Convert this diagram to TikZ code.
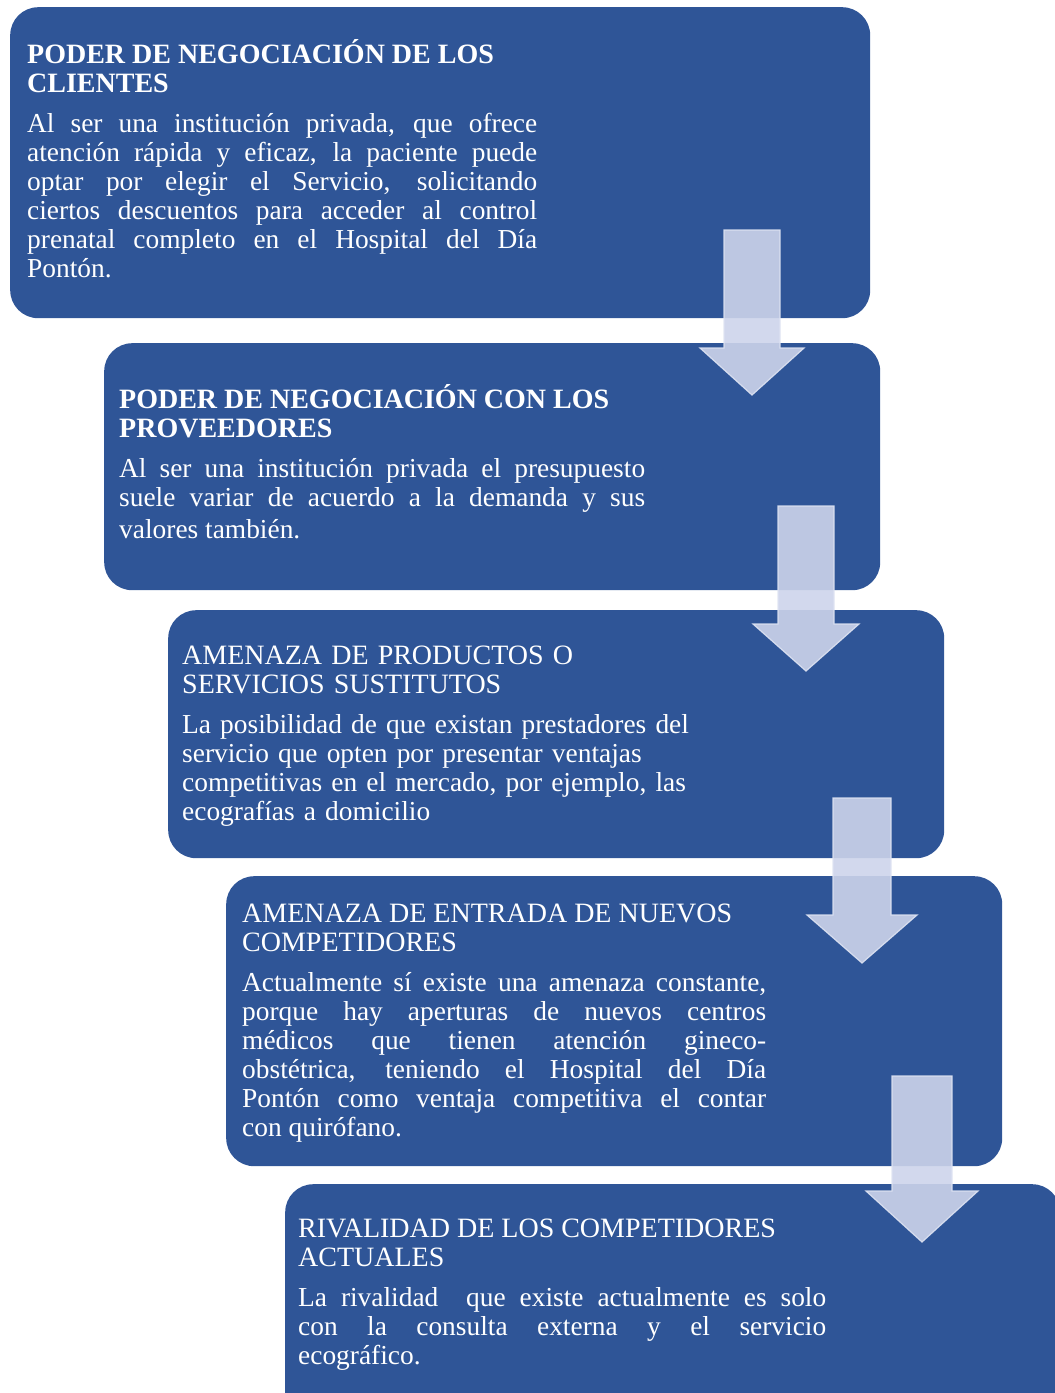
\documentclass[tikz,border=0pt]{standalone}
\usepackage{fontspec}
\setmainfont{Liberation Serif}
\usetikzlibrary{positioning}
\definecolor{porterblue}{RGB}{47,85,151}
\definecolor{arrowfill}{RGB}{205,212,235}
\definecolor{arrowedge}{RGB}{222,227,242}
\newcommand{\boxtitle}[1]{{\fontsize{28}{29}\selectfont #1}}
\tikzset{
  fbox/.style={rectangle, rounded corners=28pt, fill=porterblue, draw=none, anchor=north west, inner sep=0pt},
  ftext/.style={anchor=base west, inner sep=0pt, text=white, align=justify, font={\fontsize{27.4}{29}\selectfont\hyphenpenalty=10000\tolerance=10000}},
  farrow/.style={fill=arrowfill, draw=arrowedge, line width=1.2pt, fill opacity=.9, draw opacity=.9}
}

\begin{document}
\begin{tikzpicture}[x=1pt,y=-1pt]
\useasboundingbox (0,0) rectangle (1055,1393);
\clip (0,0) rectangle (1055,1393);
% boxes
\node[fbox, minimum width=860pt, minimum height=311pt] (b1) at (10,7) {};
\node[fbox, minimum width=776pt, minimum height=247pt] (b2) at (104,343) {};
\node[fbox, minimum width=776pt, minimum height=248pt] (b3) at (168,610) {};
\node[fbox, minimum width=776pt, minimum height=290pt] (b4) at (226,876) {};
\node[fbox, minimum width=775pt, minimum height=240pt] (b5) at (285,1184) {};
% texts
\node[ftext, text width=510pt] (t1) at (27,63) {\boxtitle{\textbf{PODER DE NEGOCIACIÓN DE LOS\\CLIENTES}}\par\vspace{11pt}
  Al ser una institución privada, que ofrece\linebreak atención rápida y eficaz, la paciente puede\linebreak optar por elegir el Servicio, solicitando\linebreak ciertos descuentos para acceder al control\linebreak prenatal completo en el Hospital del Día\linebreak Pontón.};
\node[ftext, text width=526pt] (t2) at (119,408) {\boxtitle{\textbf{PODER DE NEGOCIACIÓN CON LOS\\PROVEEDORES}}\par\vspace{11pt}
  Al ser una institución privada el presupuesto\linebreak suele variar de acuerdo a la demanda y sus\vadjust{\vskip 3pt}\linebreak valores también.};
\node[ftext, text width=520pt, align=left] (t3) at (182,664) {\boxtitle{AMENAZA DE PRODUCTOS O\\SERVICIOS SUSTITUTOS}\par\vspace{11pt}
  La posibilidad de que existan prestadores del\\servicio que opten por presentar ventajas\\competitivas en el mercado, por ejemplo, las\\ecografías a domicilio};
\node[ftext, text width=524pt] (t4) at (242,922) {\boxtitle{AMENAZA DE ENTRADA DE NUEVOS\\COMPETIDORES}\par\vspace{11pt}
  Actualmente sí existe una amenaza constante,\linebreak porque hay aperturas de nuevos centros\linebreak médicos que tienen atención gineco-\linebreak obstétrica, teniendo el Hospital del Día\linebreak Pontón como ventaja competitiva el contar\linebreak con quirófano.};
\node[ftext, text width=528pt] (t5) at (298,1237) {\boxtitle{RIVALIDAD DE LOS COMPETIDORES\\ACTUALES}\par\vspace{11pt}
  La rivalidad\ \ que existe actualmente es solo\linebreak con la consulta externa y el servicio\linebreak ecográfico.};
% arrows
\foreach \cx/\ya/\yb/\yc/\s/\h in {752/230/348/395/28/52, 806/506/624/671/28/53, 862/798/915/963/29/55, 922/1076/1191/1242/30/56}
  \draw[farrow] (\cx-\s,\ya) -- (\cx+\s,\ya) -- (\cx+\s,\yb) -- (\cx+\h,\yb) -- (\cx,\yc) -- (\cx-\h,\yb) -- (\cx-\s,\yb) -- cycle;
\end{tikzpicture}
\end{document}
